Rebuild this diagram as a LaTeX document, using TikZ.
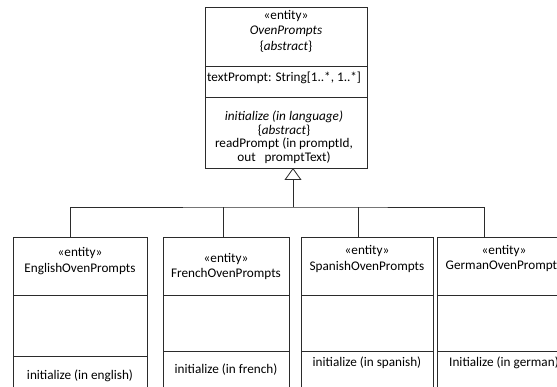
\documentclass[tikz,border=0pt]{standalone}
\usepackage{fontspec}
\setmainfont{Carlito}
\usetikzlibrary{arrows.meta}
\definecolor{linec}{HTML}{2B2B2B}
\begin{document}
\begin{tikzpicture}[x=1pt,y=-1pt]
\tikzset{
  umlbox/.style={draw=linec, line width=0.8pt, fill=white, anchor=north west,
                 inner sep=0pt, outer sep=0pt},
  lbl/.style={font=\fontsize{13.2}{15.5}\selectfont, inner sep=0pt, align=center, text=black},
  oplbl/.style={font=\fontsize{13.2}{13.5}\selectfont, inner sep=0pt, align=center, text=black},
  conn/.style={draw=linec, line width=0.8pt},
  sep/.style={draw=linec, line width=0.8pt},
}
\useasboundingbox (0,0) rectangle (557,387);
\clip (0,0) rectangle (557,387);

% abstract base class
\node[umlbox, minimum width=162pt, minimum height=161pt] (base) at (205,7) {};
\draw[sep] (base.west |- 0,66) -- (base.east |- 0,66);
\draw[sep] (base.west |- 0,97) -- (base.east |- 0,97);
\node[lbl] (baseName) at (286,31) {«entity»\\\textit{OvenPrompts}\\\{\textit{abstract}\}};
\node[lbl, anchor=west] (baseAttr) at (207,78) {textPrompt: String[1..*, 1..*]};
\node[oplbl] (baseOps) at (284,137) {\textit{initialize (in language)}\\\{\textit{abstract}\}\\readPrompt (in promptId,\\out\ \ \ promptText)};

% concrete subclasses
\node[umlbox, minimum width=134pt, minimum height=200pt] (en) at (13,237) {};
\draw[sep] (en.west |- 0,295) -- (en.east |- 0,295);
\draw[sep] (en.west |- 0,356) -- (en.east |- 0,356);
\node[lbl] (enName) at (80,261) {«entity»\\EnglishOvenPrompts};
\node[lbl] (enOps) at (80,376) {initialize (in english)};

\node[umlbox, minimum width=126pt, minimum height=200pt] (fr) at (163,237) {};
\draw[sep] (fr.west |- 0,295) -- (fr.east |- 0,295);
\draw[sep] (fr.west |- 0,351) -- (fr.east |- 0,351);
\node[lbl] (frName) at (226,266.5) {«entity»\\FrenchOvenPrompts};
\node[lbl] (frOps) at (226,370) {initialize (in french)};

\node[umlbox, minimum width=132pt, minimum height=200pt] (es) at (301,237) {};
\draw[sep] (es.west |- 0,295) -- (es.east |- 0,295);
\draw[sep] (es.west |- 0,351) -- (es.east |- 0,351);
\node[lbl] (esName) at (367,259) {«entity»\\SpanishOvenPrompts};
\node[lbl] (esOps) at (367,363) {initialize (in spanish)};

\node[umlbox, minimum width=134pt, minimum height=200pt] (de) at (437,237) {};
\draw[sep] (de.west |- 0,295) -- (de.east |- 0,295);
\draw[sep] (de.west |- 0,351) -- (de.east |- 0,351);
\node[lbl] (deName) at (504,258.5) {«entity»\\GermanOvenPrompts};
\node[lbl] (deOps) at (504,363) {Initialize (in german)};

% generalization tree
\coordinate (hub) at (293,207);
\coordinate (enT) at (70,237);
\coordinate (frT) at (223,237);
\coordinate (esT) at (358,237);
\coordinate (deT) at (484,237);
\draw[conn] (enT) |- (hub) -| (deT);
\draw[conn] (frT) -- (frT |- hub);
\draw[conn] (esT) -- (esT |- hub);
\draw[conn, -{Triangle[open, length=12pt, width=17pt, fill=white]}] (hub) -- (hub |- base.south);
\end{tikzpicture}
\end{document}
